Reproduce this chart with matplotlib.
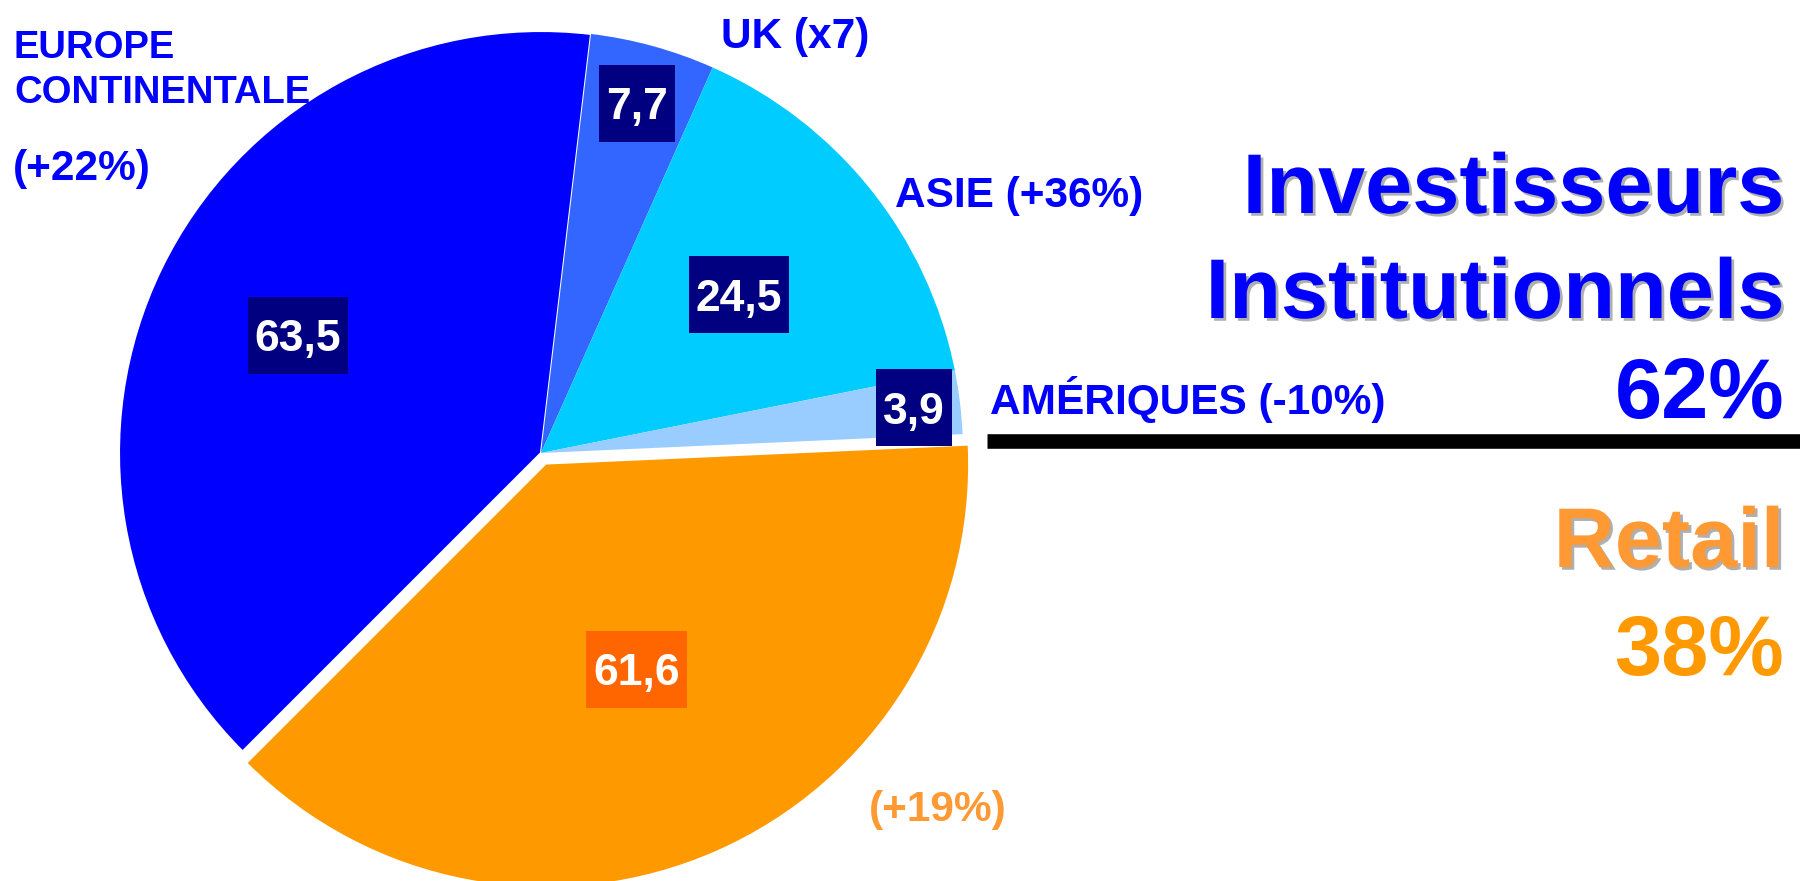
import matplotlib
matplotlib.use("Agg")
import matplotlib.pyplot as plt
import matplotlib.patheffects as pe
from matplotlib.patches import Rectangle
import numpy as np

W, H = 1800, 881

# chart data
regions = ["Europe continentale", "UK", "Asie", "Amériques", "Retail"]
values = [63.5, 7.7, 24.5, 3.9, 61.6]
value_labels = ["63,5", "7,7", "24,5", "3,9", "61,6"]
colors = ["#0000FF", "#3366FF", "#00CCFF", "#99CCFF", "#FF9900"]
box_colors = ["#000080", "#000080", "#000080", "#000080", "#FF6600"]
explode = [0, 0, 0, 0, 0.03]             # fraction of radius
box_r = [0.64, 0.86, 0.60, 0.89, 0.53]   # radial position of value boxes

plt.rcParams['font.family'] = ['Liberation Sans', 'DejaVu Sans']
plt.rcParams['font.weight'] = 'bold'

fig = plt.figure(figsize=(W / 100, H / 100), dpi=100)
ax = fig.add_axes([0, 0, 1, 1])

def top(y):
    # pixel row from the top -> data y
    return H - y

cx, cy, R = 541, top(453), 422
wedges, _ = ax.pie(values, colors=colors, explode=[e * R for e in explode],
                   startangle=225, counterclock=False, center=(cx, cy),
                   radius=R, frame=True, wedgeprops=dict(linewidth=0))
wedges[0].set_edgecolor("white")
wedges[0].set_linewidth(1.5)

ax.set_xlim(0, W)
ax.set_ylim(0, H)
ax.set_axis_off()

# value boxes
renderer = fig.canvas.get_renderer()
fs_box = 32
cap = 0.716 * fs_box * 100 / 72
for w, lab, bc, r in zip(wedges, value_labels, box_colors, box_r):
    ang = np.deg2rad((w.theta1 + w.theta2) / 2)
    x = w.center[0] + r * R * np.cos(ang)
    y = w.center[1] + r * R * np.sin(ang)
    t = ax.text(x, y - cap / 2, lab, color="white", fontsize=fs_box,
                ha="center", va="baseline", zorder=5)
    tw = t.get_window_extent(renderer).width
    ax.add_patch(Rectangle((x - tw / 2 - 7, y - 38.5), tw + 14, 77,
                           color=bc, zorder=4, lw=0))

# region labels
blue = "#0000FF"
ax.text(14, top(58), "EUROPE", color=blue, fontsize=27.5)
ax.text(14, top(103), "CONTINENTALE", color=blue, fontsize=27.5)
ax.text(13, top(180), "(+22%)", color=blue, fontsize=30.5)
ax.text(721, top(48), "UK (x7)", color=blue, fontsize=30.5)
ax.text(895, top(207), "ASIE (+36%)", color=blue, fontsize=30.5)
ax.text(990, top(414), "AMÉRIQUES (-10%)", color=blue, fontsize=30.5)
ax.text(869, top(821), "(+19%)", color="#FF9933", fontsize=30.5)

# split summary
total = sum(values)
inst_share = round(100 * sum(values[:4]) / total)
retail_share = round(100 * values[4] / total)

shadow = [pe.withSimplePatchShadow(offset=(2, -2), shadow_rgbFace="#AFAFAF", alpha=1)]
ax.text(1784, top(213), "Investisseurs", color=blue, fontsize=61, ha="right",
        path_effects=shadow)
ax.text(1784, top(318), "Institutionnels", color=blue, fontsize=61, ha="right",
        path_effects=shadow)
ax.text(1784, top(418), f"{inst_share}%", color=blue, fontsize=61, ha="right")

ax.plot([987, W], [top(441), top(441)], color="black", lw=10.5,
        solid_capstyle="butt")

ax.text(1784, top(567), "Retail", color="#FF9933", fontsize=61, ha="right",
        path_effects=shadow)
ax.text(1784, top(675), f"{retail_share}%", color="#FF9900", fontsize=61,
        ha="right")

fig.savefig("out.png", dpi=100)
